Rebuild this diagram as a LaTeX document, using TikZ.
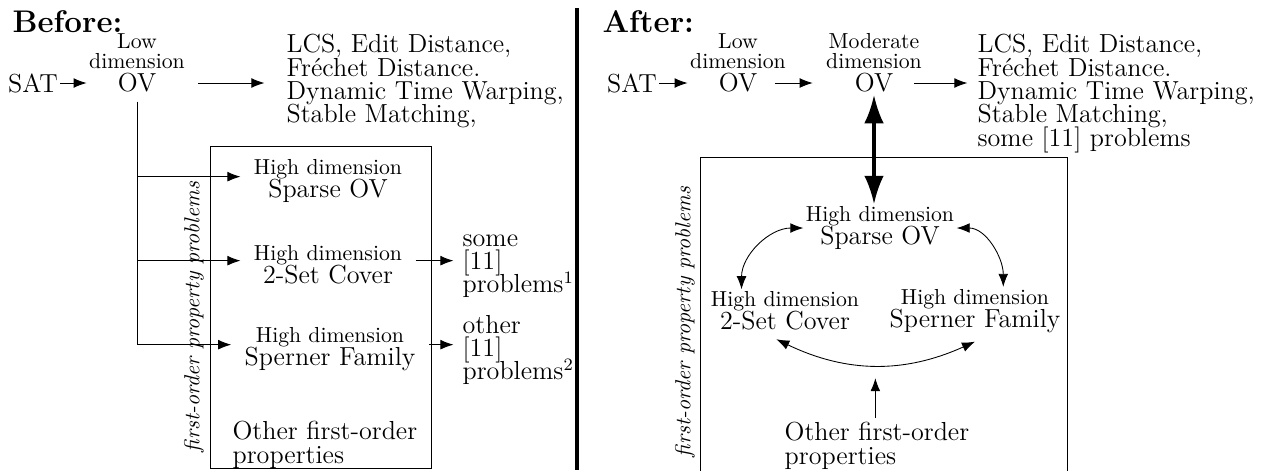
\documentclass[tikz,border=0pt]{standalone}
\usetikzlibrary{arrows.meta,positioning}
\begin{document}
\begin{tikzpicture}
  [x=0.46pt,y=0.46pt,
   >={Latex[length=6pt,width=4.5pt]},
   every node/.style={inner sep=1pt},
   head/.style={font=\Large\bfseries,anchor=north west},
   big/.style={font=\large},
   dim/.style={align=center,font={\fontsize{10}{9}\selectfont\lineskiplimit=-10pt}},
   prob/.style={align=center,inner xsep=6pt,font={\fontsize{10}{10.4}\selectfont\lineskiplimit=-10pt}},
   list/.style={align=left,anchor=north west,font={\fontsize{12}{10.7}\selectfont\lineskiplimit=-10pt}},
   side/.style={font=\itshape,rotate=90},
   fat/.style={line width=1.4pt,{Latex[length=13pt,width=9pt]}-{Latex[length=13pt,width=9pt]}}]

  \useasboundingbox (0,0) rectangle (1265,-470);

  % before
  \node[head] (before) at (10,-8) {Before:};
  \node[big] (sat1) at (33,-83) {SAT};
  \node[big] (ov1) at (137,-83) {OV};
  \node[dim,above=0pt of ov1] (dim1) {Low\\dimension};
  \node[list] (lcs1) at (284,-32) {LCS, Edit Distance,\\Fr\'echet Distance.\\Dynamic Time Warping,\\Stable Matching,};

  \draw[->] (sat1) -- (sat1 -| dim1.west);
  \draw[->,shorten <=5pt,shorten >=9pt] (ov1 -| dim1.east) -- (ov1 -| lcs1.west);

  \draw (210,-146) rectangle (431,-468);
  \node[side] (side1) at (194,-317) {first-order property problems};
  \node[prob] (sparse1) at (328,-181) {High dimension\\{\large Sparse OV}};
  \node[prob] (cover1) at (328,-265) {High dimension\\{\large 2-Set Cover}};
  \node[prob] (sperner1) at (330,-349) {High dimension\\{\large Sperner Family}};
  \node[list] (props1) at (230,-419) {Other first-order\\properties};

  \draw[shorten <=3pt] (ov1) -- ([yshift=2pt]sperner1.west -| ov1);
  \foreach \n in {sparse1,cover1,sperner1}
    \draw[->] ([yshift=2pt]\n.west -| ov1) -- ([yshift=2pt]\n.west);

  \node[list,anchor=west] (some1) at (460,-266) {some\\{}[11]\\problems$^1$};
  \node[list,anchor=west] (other1) at (460,-350) {other\\{}[11]\\problems$^2$};
  \draw[->,shorten >=3pt] ([yshift=2pt]cover1.east) -- ([yshift=2pt]cover1.east -| some1.west);
  \draw[->,shorten >=3pt] ([yshift=2pt]sperner1.east) -- ([yshift=2pt]sperner1.east -| other1.west);

  \draw[line width=1.6pt] (577,-8) -- (577,-470);

  % after
  \node[head] (after) at (600,-8) {After:};
  \node[big] (sat2) at (632,-83) {SAT};
  \node[big] (ov2a) at (738,-83) {OV};
  \node[dim,above=0pt of ov2a] (dim2a) {Low\\dimension};
  \node[big] (ov2b) at (874,-83) {OV};
  \node[dim,above=0pt of ov2b] (dim2b) {Moderate\\dimension};
  \node[list] (lcs2) at (975,-32) {LCS, Edit Distance,\\Fr\'echet Distance.\\Dynamic Time Warping,\\Stable Matching,\\some [11] problems};

  \draw[->] (sat2) -- (sat2 -| dim2a.west);
  \draw[->,shorten <=7pt,shorten >=5pt] (ov2a) -- (ov2a -| dim2b.west);
  \draw[->,shorten <=8.5pt,shorten >=3.5pt] (ov2b) -- (ov2b -| lcs2.west);

  \draw (700,-157) rectangle (1067,-471);
  \node[side] (side2) at (685,-322) {first-order property problems};
  \node[prob,inner xsep=1pt] (sparse2) at (880,-228) {High dimension\\{\large Sparse OV}};
  \node[prob,inner xsep=1pt] (cover2) at (785,-311) {High dimension\\{\large 2-Set Cover}};
  \node[prob,inner xsep=1pt] (sperner2) at (975,-311) {High dimension\\{\large Sperner Family}};
  \node[list] (props2) at (782,-420) {Other first-order\\properties};

  \draw[fat] (ov2b.south) -- (ov2b.south |- sparse2.north);
  \draw[<->] (sparse2.west) to[out=180,in=90] ([xshift=-20pt]cover2.north);
  \draw[<->] (sparse2.east) to[out=0,in=90] ([xshift=13pt]sperner2.north);
  \draw[<->] ([xshift=-4pt,yshift=-3pt]cover2.south) to[bend right=25] coordinate[pos=.5] (mid) ([yshift=-3pt]sperner2.south);
  \draw[->,shorten <=1pt] (props2.north -| mid) -- ([yshift=-6pt]mid);
\end{tikzpicture}
\end{document}
